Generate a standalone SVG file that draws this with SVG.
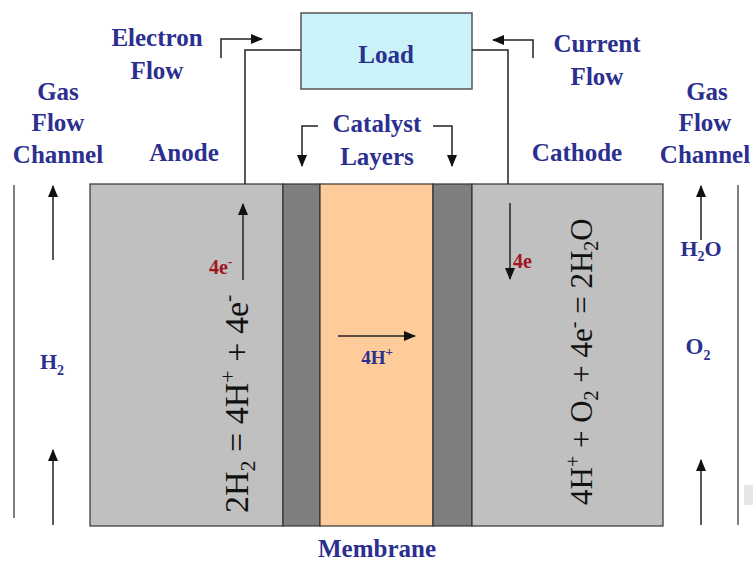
<svg xmlns="http://www.w3.org/2000/svg" width="753" height="561" viewBox="0 0 753 561">
<style>
.lbl{font-family:"Liberation Serif","Times New Roman",serif;font-weight:bold;fill:#2b2f8f;font-size:25px;text-anchor:middle}
.red{font-family:"Liberation Serif","Times New Roman",serif;font-weight:bold;fill:#a3141e;font-size:20px}
.eq{font-family:"Liberation Serif","Times New Roman",serif;fill:#111;}
.ln{stroke:#222;stroke-width:1.5;fill:none}
.cell{stroke:#333;stroke-width:1.2}
</style>
<defs>
<marker id="ah" markerUnits="userSpaceOnUse" markerWidth="12" markerHeight="10" refX="11" refY="5" orient="auto">
<path d="M0,0 L12,5 L0,10 Z" fill="#111"/>
</marker>
</defs>
<rect width="753" height="561" fill="#fff"/>
<g id="cell">
<rect class="cell" x="90" y="184" width="193" height="342" fill="#c0c0c0"/>
<rect class="cell" x="283" y="184" width="37" height="342" fill="#7f7f7f"/>
<rect class="cell" x="320" y="184" width="113" height="342" fill="#fdcc9a"/>
<rect class="cell" x="433" y="184" width="39" height="342" fill="#7f7f7f"/>
<rect class="cell" x="472" y="184" width="191" height="342" fill="#c0c0c0"/>
</g>
<g id="load">
<rect x="301" y="13" width="171" height="76" fill="#c9f3f8" stroke="#555" stroke-width="1.5"/>
<text class="lbl" x="386" y="63">Load</text>
</g>
<g id="channels">
<line x1="14" y1="185" x2="14" y2="518" stroke="#555" stroke-width="1.5"/>
<line x1="738" y1="185" x2="738" y2="525" stroke="#555" stroke-width="1.5"/>
<rect x="744" y="485" width="9" height="20" fill="#e6e6e6"/>
</g>
<g id="connectors">
<polyline class="ln" points="301,50 245,50 245,184"/>
<polyline class="ln" points="472,50 508,50 508,184"/>
<polyline class="ln" points="221,58 221,39 262,39" marker-end="url(#ah)"/>
<polyline class="ln" points="533,58 533,40 493,40" marker-end="url(#ah)"/>
<polyline class="ln" points="318,126 302,126 302,166" marker-end="url(#ah)"/>
<polyline class="ln" points="433,126 452,126 452,166" marker-end="url(#ah)"/>
<line class="ln" x1="53" y1="260" x2="53" y2="186" marker-end="url(#ah)"/>
<line class="ln" x1="53" y1="525" x2="53" y2="450" marker-end="url(#ah)"/>
<line class="ln" x1="701" y1="240" x2="701" y2="186" marker-end="url(#ah)"/>
<line class="ln" x1="701" y1="525" x2="701" y2="460" marker-end="url(#ah)"/>
<line class="ln" x1="243" y1="280" x2="243" y2="204" marker-end="url(#ah)"/>
<line class="ln" x1="510" y1="203" x2="510" y2="279" marker-end="url(#ah)"/>
<line class="ln" x1="338" y1="336" x2="415" y2="336" marker-end="url(#ah)"/>
</g>
<g id="labels">
<text class="lbl" x="157" y="46">Electron</text>
<text class="lbl" x="157" y="79">Flow</text>
<text class="lbl" x="597" y="52">Current</text>
<text class="lbl" x="597" y="85">Flow</text>
<text class="lbl" x="58" y="100">Gas</text>
<text class="lbl" x="58" y="131">Flow</text>
<text class="lbl" x="58" y="163">Channel</text>
<text class="lbl" x="707" y="100">Gas</text>
<text class="lbl" x="705" y="131">Flow</text>
<text class="lbl" x="705" y="163">Channel</text>
<text class="lbl" x="184" y="161">Anode</text>
<text class="lbl" x="577" y="161">Cathode</text>
<text class="lbl" x="377" y="132">Catalyst</text>
<text class="lbl" x="377" y="165">Layers</text>
<text class="lbl" x="377" y="557">Membrane</text>
<text class="lbl" x="52" y="369" style="font-size:22px">H<tspan dy="6" font-size="14">2</tspan></text>
<text class="lbl" x="701" y="256" style="font-size:22px">H<tspan dy="5" font-size="14">2</tspan><tspan dy="-5">O</tspan></text>
<text class="lbl" x="698" y="354" style="font-size:23px">O<tspan dy="6" font-size="14">2</tspan></text>
<text class="lbl" x="377" y="364" style="font-size:19px">4H<tspan dy="-8" font-size="13">+</tspan></text>
<text class="red" x="209" y="274">4e<tspan dy="-8" font-size="13">-</tspan></text>
<text class="red" x="513" y="268">4e</text>
</g>
<g id="equations">
<text class="eq" font-size="34" transform="translate(248,513) rotate(-90)">2H<tspan dy="7" font-size="22">2</tspan><tspan dy="-7"> = 4H</tspan><tspan dy="-13" font-size="22">+</tspan><tspan dy="13"> + 4e</tspan><tspan dy="-13" font-size="22">-</tspan></text>
<text class="eq" font-size="31" transform="translate(592,505) rotate(-90)">4H<tspan dy="-12" font-size="20">+</tspan><tspan dy="12"> + O</tspan><tspan dy="6" font-size="20">2</tspan><tspan dy="-6"> + 4e</tspan><tspan dy="-12" font-size="20">-</tspan><tspan dy="12"> = 2H</tspan><tspan dy="6" font-size="20">2</tspan><tspan dy="-6">O</tspan></text>
</g>
</svg>
